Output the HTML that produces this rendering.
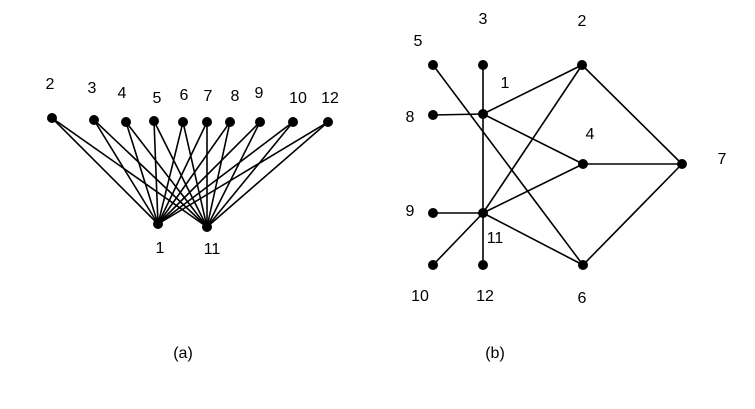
<!DOCTYPE html><html><head><style>body{margin:0;background:#fff}</style></head><body>
<svg width="755" height="404" xmlns="http://www.w3.org/2000/svg" font-family="Liberation Sans, sans-serif" font-size="16" fill="#000">
<g stroke="#000" stroke-width="1.6">
<g id="l">
<line x1="52" y1="118" x2="158" y2="224"/><line x1="52" y1="118" x2="207" y2="227"/>
<line x1="94" y1="120" x2="158" y2="224"/><line x1="94" y1="120" x2="207" y2="227"/>
<line x1="126" y1="122" x2="158" y2="224"/><line x1="126" y1="122" x2="207" y2="227"/>
<line x1="154" y1="121" x2="158" y2="224"/><line x1="154" y1="121" x2="207" y2="227"/>
<line x1="183" y1="122" x2="158" y2="224"/><line x1="183" y1="122" x2="207" y2="227"/>
<line x1="207" y1="122" x2="158" y2="224"/><line x1="207" y1="122" x2="207" y2="227"/>
<line x1="230" y1="122" x2="158" y2="224"/><line x1="230" y1="122" x2="207" y2="227"/>
<line x1="260" y1="122" x2="158" y2="224"/><line x1="260" y1="122" x2="207" y2="227"/>
<line x1="293" y1="122" x2="158" y2="224"/><line x1="293" y1="122" x2="207" y2="227"/>
<line x1="328" y1="122" x2="158" y2="224"/><line x1="328" y1="122" x2="207" y2="227"/>
</g>
<line x1="433" y1="65" x2="583" y2="265"/>
<line x1="483" y1="65" x2="483" y2="265"/>
<line x1="433" y1="115" x2="483" y2="114"/>
<line x1="483" y1="114" x2="582" y2="65"/>
<line x1="483" y1="114" x2="583" y2="164"/>
<line x1="483" y1="213" x2="582" y2="65"/>
<line x1="483" y1="213" x2="583" y2="164"/>
<line x1="483" y1="213" x2="583" y2="265"/>
<line x1="433" y1="213" x2="483" y2="213"/>
<line x1="433" y1="265" x2="483" y2="213"/>
<line x1="582" y1="65" x2="682" y2="164"/>
<line x1="583" y1="164" x2="682" y2="164"/>
<line x1="583" y1="265" x2="682" y2="164"/>
</g>
<g>
<circle cx="52" cy="118" r="5"/><circle cx="94" cy="120" r="5"/><circle cx="126" cy="122" r="5"/><circle cx="154" cy="121" r="5"/><circle cx="183" cy="122" r="5"/><circle cx="207" cy="122" r="5"/><circle cx="230" cy="122" r="5"/><circle cx="260" cy="122" r="5"/><circle cx="293" cy="122" r="5"/><circle cx="328" cy="122" r="5"/><circle cx="158" cy="224" r="5"/><circle cx="207" cy="227" r="5"/>
<circle cx="433" cy="65" r="5"/><circle cx="483" cy="65" r="5"/><circle cx="582" cy="65" r="5"/><circle cx="483" cy="114" r="5"/><circle cx="433" cy="115" r="5"/><circle cx="583" cy="164" r="5"/><circle cx="682" cy="164" r="5"/><circle cx="433" cy="213" r="5"/><circle cx="483" cy="213" r="5"/><circle cx="433" cy="265" r="5"/><circle cx="483" cy="265" r="5"/><circle cx="583" cy="265" r="5"/>
</g>
<g text-anchor="middle">
<text x="50" y="89">2</text><text x="92" y="93">3</text><text x="122" y="98">4</text><text x="157" y="103">5</text><text x="184" y="100">6</text><text x="208" y="101">7</text><text x="235" y="101">8</text><text x="259" y="98">9</text><text x="298" y="103">10</text><text x="330" y="103">12</text>
<text x="160" y="253">1</text><text x="212" y="254">11</text>
<text x="183" y="358">(a)</text>
<text x="418" y="46">5</text><text x="483" y="24">3</text><text x="582" y="26">2</text><text x="505" y="88">1</text><text x="410" y="122">8</text><text x="590" y="139">4</text><text x="722" y="164">7</text><text x="410" y="216">9</text><text x="495" y="243">11</text><text x="420" y="301">10</text><text x="485" y="301">12</text><text x="582" y="303">6</text>
<text x="495" y="358">(b)</text>
</g>
</svg>
</body></html>
